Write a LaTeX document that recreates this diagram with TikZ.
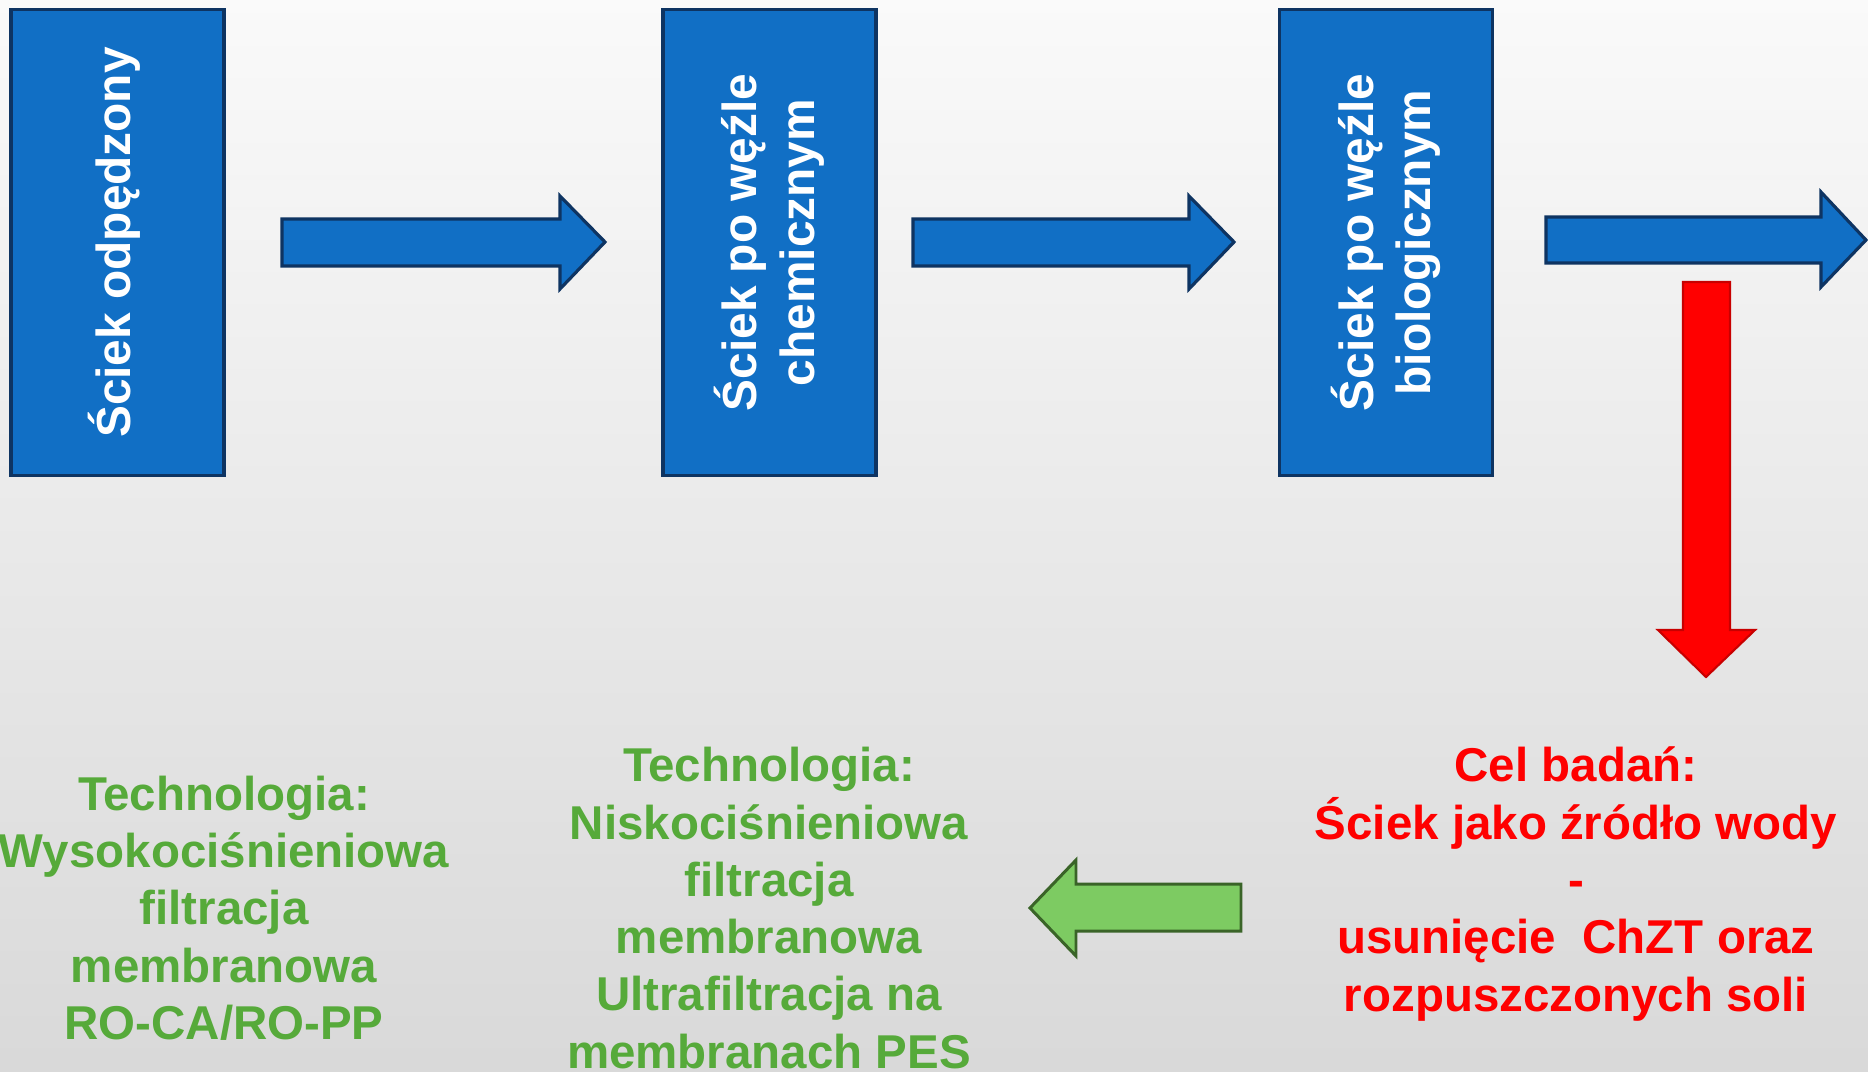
\documentclass[tikz,border=0pt]{standalone}
\usepackage{fontspec}
\setmainfont{Liberation Sans}
\usetikzlibrary{positioning}
\definecolor{boxblue}{RGB}{17,111,197}
\definecolor{boxedge}{RGB}{14,52,98}
\definecolor{goalred}{RGB}{255,0,0}
\definecolor{rededge}{RGB}{200,0,0}
\definecolor{techgreen}{RGB}{86,170,58}
\definecolor{arrowgreen}{RGB}{125,203,98}
\definecolor{greenedge}{RGB}{58,100,40}

\begin{document}
\begin{tikzpicture}[x=0.01cm,y=-0.01cm,
  stage/.style={draw=boxedge,line width=0.9pt,fill=boxblue,rotate=90,minimum width=4.65cm,minimum height=2.13cm,inner sep=0pt,text=white,align=center,font=\bfseries\fontsize{13.6}{16.4}\selectfont},
  flow/.style={draw=boxedge,line width=0.9pt,fill=boxblue},
  bigtext/.style={align=center,font=\bfseries\fontsize{13.5}{16.3}\selectfont}]
\useasboundingbox (0,0) rectangle (1868,1072);
\fill[top color=gray!4,bottom color=gray!30] (0,0) rectangle (1868,1072);

% stages of the treatment line
\node[stage] (raw) at (117.5,242.5) {\raisebox{0.16cm}{Ściek odpędzony}};
\node[stage] (chem) at (769.5,242.5) {Ściek po węźle\\chemicznym};
\node[stage] (bio) at (1386,242.5) {Ściek po węźle\\biologicznym};

% block arrows between stages
\draw[flow] (282,219) -- (560,219) -- (560,196) -- (605,242) -- (560,289) -- (560,266) -- (282,266) -- cycle;
\draw[flow] (913,219) -- (1189,219) -- (1189,196) -- (1234,242) -- (1189,289) -- (1189,266) -- (913,266) -- cycle;
\draw[flow] (1546,217) -- (1821,217) -- (1821,192) -- (1866,240) -- (1821,287) -- (1821,263) -- (1546,263) -- cycle;
\draw[draw=rededge,line width=0.6pt,fill=goalred] (1683,282) -- (1730,282) -- (1730,630) -- (1755,630) -- (1706,677) -- (1658,630) -- (1683,630) -- cycle;
\draw[draw=greenedge,line width=0.85pt,fill=arrowgreen] (1241,884) -- (1076,884) -- (1076,860) -- (1030,908) -- (1076,956) -- (1076,931) -- (1241,931) -- cycle;

% research goal and technologies
\node[bigtext,text=goalred] (goal) at (1576,884) {Cel badań:\\Ściek jako źródło wody\\-\\usunięcie\ \ ChZT oraz\\rozpuszczonych soli};
\node[bigtext,text=techgreen] (uf) at (769,908) {Technologia:\\Niskociśnieniowa\\filtracja\\membranowa\\Ultrafiltracja na\\membranach PES};
\node[bigtext,text=techgreen] (ro) at (224,908) {Technologia:\\Wysokociśnieniowa\\filtracja\\membranowa\\RO-CA/RO-PP};
\end{tikzpicture}
\end{document}
